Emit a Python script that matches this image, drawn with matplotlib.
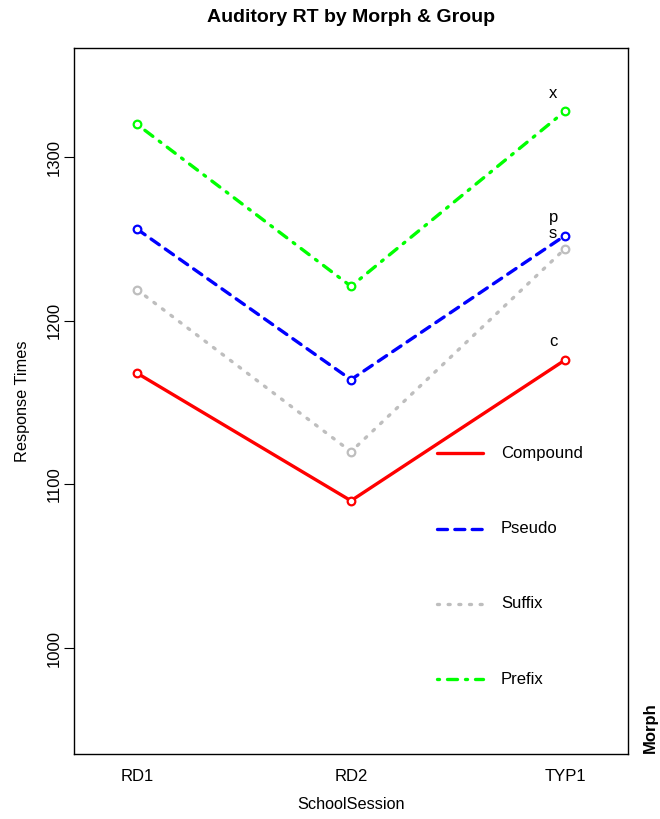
import matplotlib.pyplot as plt

plt.rcParams['font.family'] = ['Liberation Sans', 'DejaVu Sans']

# Datos
sesiones = ['RD1', 'RD2', 'TYP1']
morfos = ['Compound', 'Pseudo', 'Suffix', 'Prefix']
etiquetas = ['c', 'p', 's', 'x']
compound = [1168, 1090, 1176]
pseudo = [1256, 1164, 1252]
suffix = [1219, 1120, 1244]
prefix = [1320, 1221, 1328]
valores = [compound, pseudo, suffix, prefix]

colores = ['#ff0000', '#0000ff', '#bebebe', '#00ff00']
estilos = ['-', (0, (3, 2.2)), (0, (0.6, 2.6)), (0, (0.6, 2.4, 3, 2.4))]

fig = plt.figure(figsize=(6.6, 8.19), dpi=100)
ax = fig.add_axes([0.1121, 0.0794, 0.8394, 0.862])

x = [1, 2, 3]
for vals, col, ls in zip(valores, colores, estilos):
    ax.plot(x, vals, color=col, linestyle=ls, linewidth=2.4,
            dash_capstyle='round', solid_capstyle='round')
    ax.plot(x, vals, 'o', markerfacecolor='white', markeredgecolor=col,
            markersize=5.5, markeredgewidth=1.6, linestyle='none')

# etiquetas junto al último punto
desplaz = [11, 11, 9, 11]
for vals, lab, d in zip(valores, etiquetas, desplaz):
    ax.text(2.944, vals[2] + d, lab, fontsize=12, ha='center', va='center')

# leyenda dibujada a mano
ley_y = [1119, 1073, 1027, 981]
for yy, nombre, col, ls in zip(ley_y, morfos, colores, estilos):
    ax.plot([2.40, 2.615], [yy, yy], color=col, linestyle=ls, linewidth=2.4,
            dash_capstyle='round', solid_capstyle='round')
    ax.text(2.70, yy, nombre, fontsize=12, va='center', ha='left')

ax.set_xlim(0.706, 3.294)
ax.set_ylim(935.3, 1366.6)
ax.set_xticks(x)
ax.set_xticklabels(sesiones, fontsize=12)
ax.tick_params(axis='x', length=0, pad=11)
ax.set_yticks([1000, 1100, 1200, 1300])
ax.set_yticklabels(['1000', '1100', '1200', '1300'], fontsize=12,
                   rotation=90, va='center')
ax.tick_params(axis='y', length=7, width=0.8, pad=2)
for s in ax.spines.values():
    s.set_linewidth(1.0)

ax.set_xlabel('SchoolSession', fontsize=11.7, labelpad=9)
ax.set_ylabel('Response Times', fontsize=11.7, labelpad=12)
fig.text(351 / 660, 1 - 18 / 819, 'Auditory RT by Morph & Group', fontsize=14,
         fontweight='bold', ha='center', va='center')
fig.text(650 / 660, 1 - 728 / 819, 'Morph', fontsize=12, fontweight='bold',
         rotation=90, ha='center', va='center')

fig.savefig('out.png', dpi=100)
